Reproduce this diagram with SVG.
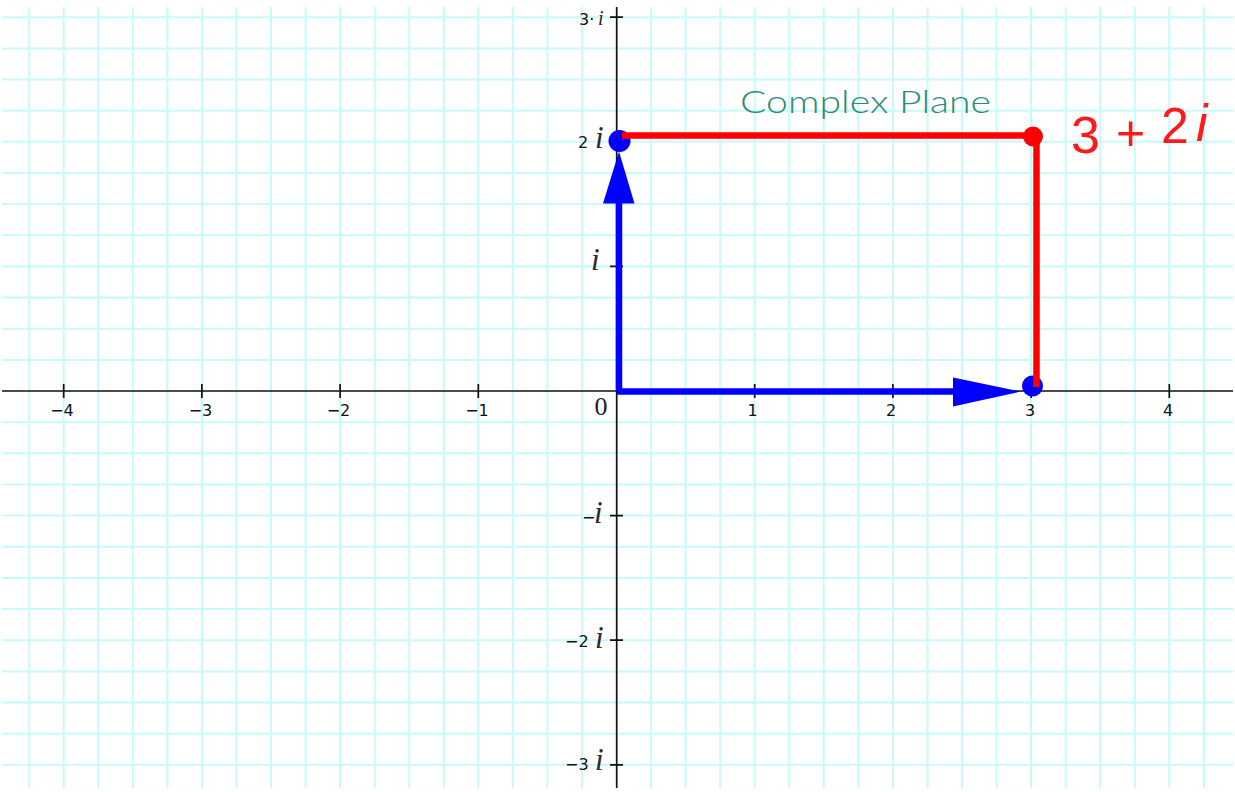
<svg xmlns="http://www.w3.org/2000/svg" width="1235" height="792" viewBox="0 0 1235 792">
<defs>
<style>
.grid{stroke:#c6fafc;stroke-width:2;fill:none}
.axis{stroke:#111;stroke-width:1.7;fill:none}
.num{font-family:"DejaVu Sans",sans-serif;font-size:16px;fill:#111}
.im{font-family:"Liberation Serif",serif;font-style:italic;fill:#2a2a2a}
.blue{stroke:#0000ff;stroke-width:6.5;fill:none}
.red{stroke:#ff0000;stroke-width:6.5;fill:none}
</style>
</defs>
<rect width="1235" height="792" fill="#ffffff"/>
<g id="grid">
<path class="grid" d="M29.2 7V788M63.7 7V788M98.3 7V788M132.8 7V788M167.4 7V788M201.9 7V788M236.5 7V788M271 7V788M305.6 7V788M340.1 7V788M374.7 7V788M409.2 7V788M443.8 7V788M478.3 7V788M512.9 7V788M547.4 7V788M582 7V788M651.1 7V788M685.6 7V788M720.2 7V788M754.7 7V788M789.3 7V788M823.8 7V788M858.4 7V788M892.9 7V788M927.5 7V788M962 7V788M996.6 7V788M1031.1 7V788M1065.7 7V788M1100.2 7V788M1134.8 7V788M1169.3 7V788M1203.9 7V788"/>
<path class="grid" d="M2 17.2H1233M2 48.4H1233M2 79.5H1233M2 110.7H1233M2 141.8H1233M2 173H1233M2 204.1H1233M2 235.3H1233M2 266.4H1233M2 297.6H1233M2 328.7H1233M2 359.9H1233M2 422.2H1233M2 453.3H1233M2 484.5H1233M2 515.6H1233M2 546.8H1233M2 577.9H1233M2 609.1H1233M2 640.2H1233M2 671.4H1233M2 702.5H1233M2 733.7H1233M2 764.8H1233"/>
</g>
<g id="axes">
<path class="axis" d="M2 391H1233M616.7 7V788"/>
<path class="axis" d="M63.7 384V398M201.9 384V398M340.1 384V398M478.3 384V398M754.7 384V398M892.9 384V398M1031.1 384V398M1169.3 384V398"/>
<path class="axis" d="M610 17.2H623M610 141.8H623M610 266.4H623M610 515.6H623M610 640.2H623M610 764.8H623"/>
</g>
<g id="x-labels" class="num" text-anchor="middle">
<text x="62" y="416">−4</text>
<text x="200.5" y="416">−3</text>
<text x="338.5" y="416">−2</text>
<text x="477" y="416">−1</text>
<text x="752.5" y="416">1</text>
<text x="891" y="416">2</text>
<text x="1030" y="416">3</text>
<text x="1168" y="416">4</text>
</g>
<text id="origin-label" x="601" y="415" text-anchor="middle" font-family="Liberation Serif, serif" font-size="26" fill="#222">0</text>
<g id="y-labels">
<text class="num" x="579" y="25">3·<tspan class="im" x="598" font-size="20">i</tspan></text>
<text class="num" x="578" y="148">2<tspan class="im" x="595" font-size="31">i</tspan></text>
<text class="im" x="591" y="270" font-size="31">i</text>
<text class="num" x="582" y="523">−</text>
<text class="im" x="594" y="523" font-size="31">i</text>
<text class="num" x="565" y="647">−2</text>
<text class="im" x="595" y="648" font-size="31">i</text>
<text class="num" x="565" y="770">−3</text>
<text class="im" x="595" y="770" font-size="31">i</text>
</g>
<text id="title" x="740" y="113" font-family="Lato, 'Noto Sans', sans-serif" font-weight="300" font-size="32" fill="#2a8c78" textLength="251" lengthAdjust="spacingAndGlyphs">Complex Plane</text>
<g id="connectors">
<path class="blue" d="M617 391.5H955"/>
<polygon fill="#0000ff" points="953,377.5 1021,391.5 953,406.5"/>
<path class="blue" d="M619 391V202"/>
<polygon fill="#0000ff" points="603,203.5 634.5,203.5 619,151.5"/>
<circle id="pt-2i" cx="619.5" cy="141" r="11" fill="#0000ff"/>
<circle id="pt-3" cx="1032.5" cy="386" r="10.5" fill="#0000ff"/>
<path class="red" d="M622 135.5H1036.5V387"/>
</g>
<g id="point-3-2i">
<circle cx="1033" cy="136.5" r="10" fill="#ff0000"/>
<text font-family="'Liberation Sans', sans-serif" fill="#ff1a1a" font-size="52"><tspan x="1071" y="153">3</tspan><tspan x="1116" y="150" font-size="50">+</tspan><tspan x="1161" y="143" font-size="50">2</tspan><tspan x="1196" y="141" font-size="52" font-style="italic">i</tspan></text>
</g>
</svg>
